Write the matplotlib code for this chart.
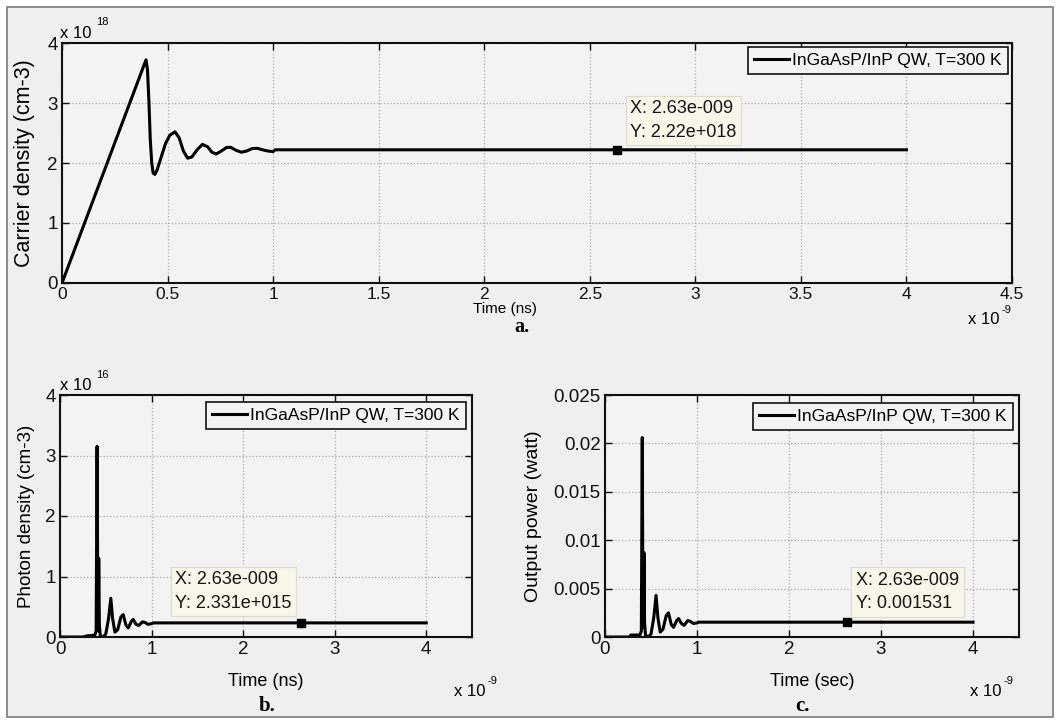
import matplotlib
matplotlib.use('Agg')
import matplotlib.pyplot as plt
from matplotlib.patches import Rectangle

plt.rcParams['font.family'] = ['Liberation Sans', 'DejaVu Sans']

# ---- data (time in ns) ----
t_carrier = [0, 0.398, 0.405, 0.412, 0.418, 0.425, 0.432, 0.44, 0.45, 0.47, 0.49,
             0.51, 0.535, 0.555, 0.575, 0.595, 0.615, 0.64, 0.665, 0.69, 0.71,
             0.73, 0.755, 0.78, 0.80, 0.825, 0.85, 0.875, 0.90, 0.925, 0.95,
             0.975, 1.0, 1.01, 4.0]
carrier = [0, 3.72, 3.55, 3.0, 2.4, 2.0, 1.83, 1.81, 1.88, 2.1, 2.32,
           2.46, 2.52, 2.42, 2.2, 2.08, 2.1, 2.22, 2.31, 2.27, 2.18,
           2.15, 2.2, 2.26, 2.26, 2.21, 2.18, 2.2, 2.24, 2.245, 2.22,
           2.2, 2.19, 2.22, 2.22]          # x 1e18 cm-3

t_photon = [0, 0.25, 0.30, 0.38, 0.395, 0.405, 0.413, 0.418, 0.423, 0.43, 0.44,
            0.47, 0.50, 0.53, 0.555, 0.575, 0.60, 0.63, 0.665, 0.69, 0.72,
            0.745, 0.78, 0.80, 0.83, 0.86, 0.90, 0.93, 0.96, 1.0, 1.02, 4.0]
photon = [0, 0.0, 0.02, 0.03, 0.1, 3.15, 0.5, 0.1, 1.3, 0.2, 0.02,
          0.0, 0.05, 0.3, 0.64, 0.3, 0.08, 0.12, 0.33, 0.37, 0.2,
          0.15, 0.26, 0.29, 0.21, 0.19, 0.25, 0.24, 0.21, 0.22, 0.2331, 0.2331]  # x 1e16 cm-3

t_power = [0, 0.27, 0.28, 0.38, 0.395, 0.405, 0.412, 0.417, 0.42, 0.424, 0.43,
           0.44, 0.47, 0.50, 0.53, 0.555, 0.575, 0.60, 0.63, 0.665, 0.69,
           0.72, 0.745, 0.78, 0.80, 0.83, 0.86, 0.90, 0.93, 0.96, 1.0, 1.02, 4.0]
power = [0, 0, 0.0002, 0.0002, 0.0006, 0.0206, 0.003, 0.0062, 0.001, 0.0087, 0.0015,
         0.0002, 0.0, 0.0003, 0.002, 0.0043, 0.002, 0.0005, 0.0008, 0.0022, 0.0025,
         0.0013, 0.001, 0.0017, 0.0019, 0.0014, 0.0012, 0.0017, 0.0016, 0.0014,
         0.00145, 0.001531, 0.001531]      # watt

tip_t = 2.63
tip_carrier = 2.22
tip_photon = 0.2331
tip_power = 0.001531

legend_label = 'InGaAsP/InP QW, T=300 K'

top_xticks = [0, 0.5, 1, 1.5, 2, 2.5, 3, 3.5, 4, 4.5]
top_xticklabels = ['0', '0.5', '1', '1.5', '2', '2.5', '3', '3.5', '4', '4.5']
bot_xticks = [0, 1, 2, 3, 4]
bot_xticklabels = ['0', '1', '2', '3', '4']
n_yticks = [0, 1, 2, 3, 4]
p_yticks = [0, 0.005, 0.01, 0.015, 0.02, 0.025]
p_yticklabels = ['0', '0.005', '0.01', '0.015', '0.02', '0.025']

W, H = 1060, 723
fig = plt.figure(figsize=(W / 100, H / 100), dpi=100, facecolor='white')
fig.patches.append(Rectangle((7 / W, 1 - 717 / H), 1046 / W, 710 / H,
                             transform=fig.transFigure, facecolor='#efefef',
                             edgecolor='#858585', lw=1.3, zorder=-10))


def add_axes(x0, y0, x1, y1):
    ax = fig.add_axes([x0 / W, 1 - y1 / H, (x1 - x0) / W, (y1 - y0) / H])
    ax.set_facecolor('#f3f3f3')
    for s in ax.spines.values():
        s.set_linewidth(1.5)
        s.set_color('#111111')
    ax.tick_params(direction='in', length=5, width=1.0, top=True, right=True,
                   labelsize=13.5, pad=3, colors='#111111')
    ax.grid(True, linestyle=':', color='#aaaaaa', lw=0.9)
    ax.set_axisbelow(True)
    return ax


def ftext(x, y, s, **kw):
    fig.text(x / W, 1 - y / H, s, **kw)


def ylabel(ax, text, size, cx, x0, width):
    ax.set_ylabel(text, fontsize=size)
    ax.yaxis.label.set_va('center')
    ax.yaxis.set_label_coords((cx - x0) / width, 0.5)


def datatip(ax, x, y, lines, dx, dy, ha):
    ax.plot([x], [y], 's', color='black', ms=5.5, zorder=5)
    ax.annotate(lines, xy=(x, y), xytext=(dx, dy), textcoords='offset pixels',
                ha=ha, va='bottom', multialignment='left', fontsize=13,
                linespacing=1.5, color='#151515',
                bbox=dict(boxstyle='square,pad=0.25', fc='#f6f6e9', ec='#dcdccc', lw=0.8),
                zorder=6)


def legend(ax, rx, ty):
    ax.legend([legend_label], loc='upper right', bbox_to_anchor=(rx / W, 1 - ty / H),
              bbox_transform=fig.transFigure, borderaxespad=0, fontsize=12.5,
              fancybox=False, edgecolor='#111111', facecolor='#f3f3f3', framealpha=1,
              handlelength=2.0, handletextpad=0.2, borderpad=0.35)
    ax.get_legend().get_frame().set_linewidth(1.2)


# ---- a. carrier density ----
ax1 = add_axes(62, 43, 1012, 283)
ax1.plot(t_carrier, carrier, color='black', lw=2.2)
ax1.set_xlim(0, 4.5)
ax1.set_ylim(0, 4)
ax1.set_xticks(top_xticks)
ax1.set_xticklabels(top_xticklabels, fontsize=12.5)
ax1.set_yticks(n_yticks)
ylabel(ax1, 'Carrier density (cm-3)', 15.5, 25, 62, 950)
legend(ax1, 1008, 47)
datatip(ax1, tip_t, tip_carrier, 'X: 2.63e-009\nY: 2.22e+018', 13, 9, 'left')
ftext(505, 309, 'Time (ns)', fontsize=11, ha='center', va='center')
ftext(522, 327, 'a.', fontsize=14.5, family='Liberation Serif', weight='bold',
      ha='center', va='center')
ftext(999, 319, 'x 10', fontsize=12, ha='right', va='center')
ftext(1001, 310, '-9', fontsize=8, ha='left', va='center')
ftext(60, 33, 'x 10', fontsize=12, ha='left', va='center')
ftext(96, 22, '18', fontsize=8, ha='left', va='center')

# ---- b. photon density ----
ax2 = add_axes(60, 395, 472, 637)
ax2.plot(t_photon, photon, color='black', lw=2.2)
ax2.set_xlim(0, 4.5)
ax2.set_ylim(0, 4)
ax2.set_xticks(bot_xticks)
ax2.set_xticklabels(bot_xticklabels)
ax2.set_yticks(n_yticks)
ylabel(ax2, 'Photon density (cm-3)', 13.5, 27, 60, 412)
legend(ax2, 466, 402)
datatip(ax2, tip_t, tip_photon, 'X: 2.63e-009\nY: 2.331e+015', -9, 11, 'right')
ftext(266, 681, 'Time (ns)', fontsize=13, ha='center', va='center')
ftext(267, 706, 'b.', fontsize=15, family='Liberation Serif', weight='bold',
      ha='center', va='center')
ftext(60, 385, 'x 10', fontsize=12, ha='left', va='center')
ftext(96, 375, '16', fontsize=8, ha='left', va='center')
ftext(486, 692, 'x 10', fontsize=12, ha='right', va='center')
ftext(488, 681, '-9', fontsize=8, ha='left', va='center')

# ---- c. output power ----
ax3 = add_axes(605, 395, 1019, 637)
ax3.plot(t_power, power, color='black', lw=2.2)
ax3.set_xlim(0, 4.5)
ax3.set_ylim(0, 0.025)
ax3.set_xticks(bot_xticks)
ax3.set_xticklabels(bot_xticklabels)
ax3.set_yticks(p_yticks)
ax3.set_yticklabels(p_yticklabels)
ylabel(ax3, 'Output power (watt)', 14, 533, 605, 414)
legend(ax3, 1013, 403)
datatip(ax3, tip_t, tip_power, 'X: 2.63e-009\nY: 0.001531', 9, 10, 'left')
ftext(812, 681, 'Time (sec)', fontsize=13, ha='center', va='center')
ftext(802, 706, 'c.', fontsize=15, family='Liberation Serif', weight='bold',
      ha='center', va='center')
ftext(1002, 692, 'x 10', fontsize=12, ha='right', va='center')
ftext(1004, 681, '-9', fontsize=8, ha='left', va='center')

fig.savefig('out.png', dpi=100, facecolor=fig.get_facecolor())
